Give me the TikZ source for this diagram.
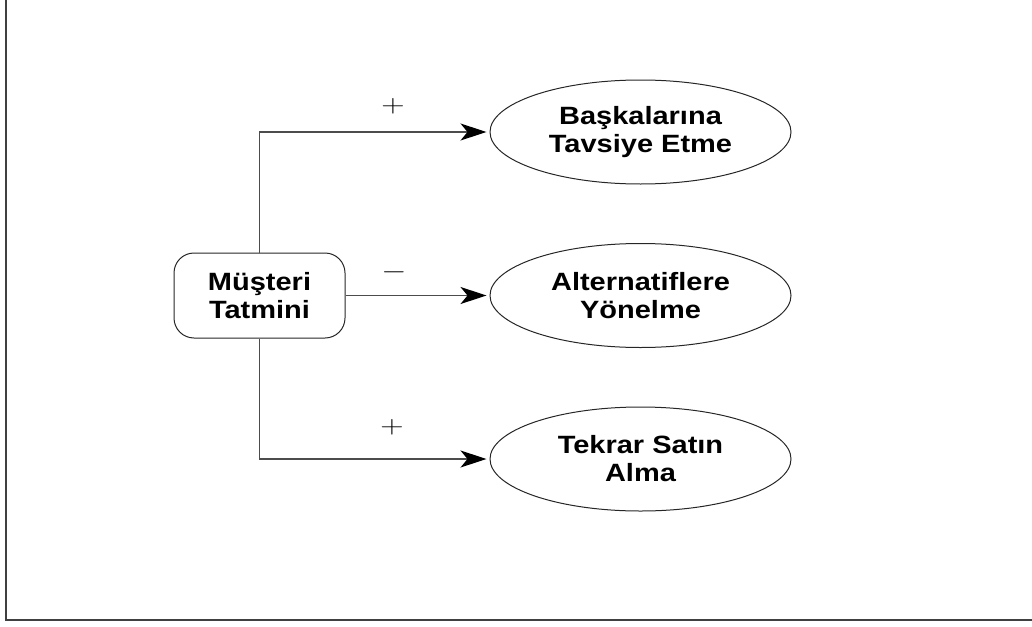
\documentclass[tikz,border=0pt]{standalone}
\usepackage{fontspec}
\usetikzlibrary{arrows.meta,shapes.geometric}
\newfontfamily\labfont[FakeStretch=1.16]{Liberation Sans}
\tikzset{
  labeltext/.style={font=\labfont\bfseries\fontsize{25}{28}\selectfont, align=center, text=black},
  causebox/.style={draw=black!85, line width=1pt, rectangle, rounded corners=20pt,
    minimum width=171pt, minimum height=85pt, inner sep=0pt, labeltext},
  effect/.style={draw=black!85, line width=1pt, ellipse, minimum width=301pt,
    minimum height=104pt, inner sep=0pt, labeltext},
  link/.style={draw=black!70, line width=1.3pt,
    -{Stealth[length=26pt, width=17pt, inset=7pt, color=black, fill=black]}, shorten >=3pt},
  sign/.style={inner sep=0pt, font=\fontsize{25.5}{25.5}\selectfont},
  frameline/.style={draw=black!75, line width=2pt}
}
\newcommand{\widesign}[1]{\scalebox{1.3}[1]{$#1$}}
\begin{document}
\begin{tikzpicture}[x=1pt, y=-1pt]
  \useasboundingbox (0,0) rectangle (1032,626);
  % open frame: left and bottom edges only
  \coordinate (ftop) at (5.5,0);
  \coordinate (fcorner) at (5.5,620);
  \coordinate (fright) at (1032,620);
  \draw[frameline] (ftop) -- (fcorner) -- (fright);

  % cause and effects
  \node[causebox] (mt) at (259.5,295.5) {Müşteri\\Tatmini};
  \node[effect] (e1) at (640.5,132) {Başkalarına\\Tavsiye Etme};
  \node[effect] (e2) at (640.5,295.5) {Alternatiflere\\Yönelme};
  \node[effect] (e3) at (640.5,459) {Tekrar Satın\\Alma};

  % connectors
  \draw[link] (mt.north) |- (e1.west);
  \draw[link] (mt.east) -- (e2.west);
  \draw[link] (mt.south) |- (e3.west);

  % polarity signs
  \node[sign] (s1) at (393,106) {\widesign{+}};
  \node[sign] (s2) at (394,272) {\widesign{-}};
  \node[sign] (s3) at (392,427) {\widesign{+}};
\end{tikzpicture}
\end{document}
